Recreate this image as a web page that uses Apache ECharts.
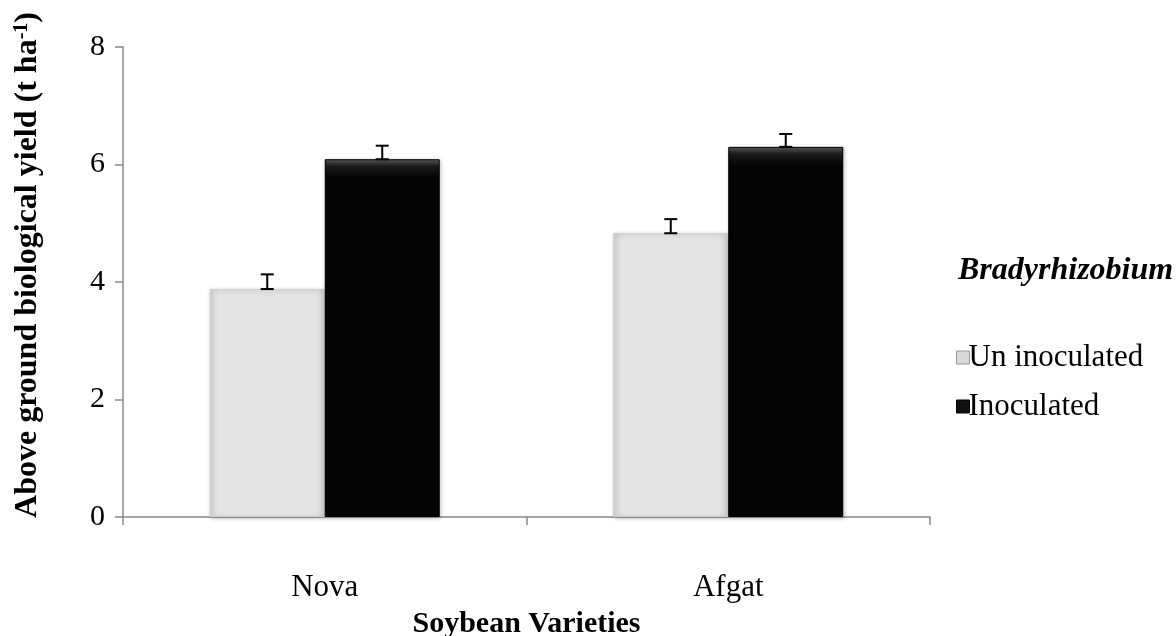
<!DOCTYPE html>
<html>
<head>
<meta charset="utf-8">
<script src="https://cdn.jsdelivr.net/npm/echarts@6/dist/echarts.min.js"></script>
<style>html,body{margin:0;padding:0;background:#fff}#c{width:1176px;height:636px}</style>
</head>
<body>
<div id="c"></div>
<script>
var categories = ['Nova', 'Afgat'];
var seriesNames = ['Un inoculated', 'Inoculated'];
var uninoculated = [3.88, 4.83];
var inoculated = [6.09, 6.30];
var errUninoculated = [0.25, 0.24];
var errInoculated = [0.23, 0.22];
var yTicks = [0, 2, 4, 6, 8];

var FONT = '"Liberation Serif", "Times New Roman", serif';
var chart = echarts.init(document.getElementById('c'));

function errSeries(values, errs, idx) {
  var data = values.map(function (v, i) { return [i, v, v + errs[i]]; });
  return {
    type: 'custom',
    silent: true,
    z: 10,
    renderItem: function (params, api) {
      var x = api.value(0);
      var lo = api.coord([x, api.value(1)]);
      var hi = api.coord([x, api.value(2)]);
      var bw = api.size([1, 0])[0];
      var barW = bw * 0.57 / 2;
      var cx = lo[0] + (idx === 0 ? -barW / 2 : barW / 2);
      var cap = 6.5;
      var st = { stroke: '#000', lineWidth: 2 };
      return {
        type: 'group',
        children: [
          { type: 'line', shape: { x1: cx, y1: lo[1], x2: cx, y2: hi[1] }, style: st },
          { type: 'line', shape: { x1: cx - cap, y1: hi[1], x2: cx + cap, y2: hi[1] }, style: st },
          { type: 'line', shape: { x1: cx - cap, y1: lo[1], x2: cx + cap, y2: lo[1] }, style: st }
        ]
      };
    },
    data: data
  };
}

chart.setOption({
  animation: false,
  textStyle: { fontFamily: FONT },
  grid: { left: 123, right: 246, top: 47, bottom: 119, containLabel: false, outerBoundsMode: 'none' },
  xAxis: {
    type: 'category',
    data: categories,
    axisLine: { lineStyle: { color: '#888', width: 1.5 } },
    axisTick: { show: true, length: 8, alignWithLabel: false, lineStyle: { color: '#888', width: 1.5 } },
    axisLabel: { color: '#000', fontSize: 31, fontFamily: FONT, margin: 55 },
    name: 'Soybean Varieties',
    nameLocation: 'middle',
    nameGap: 92,
    nameTextStyle: { color: '#000', fontSize: 30, fontWeight: 'bold', fontFamily: FONT }
  },
  yAxis: {
    type: 'value',
    min: 0, max: 8, interval: 2,
    axisLine: { show: true, lineStyle: { color: '#888', width: 1.5 } },
    axisTick: { show: true, length: 8, lineStyle: { color: '#888', width: 1.5 } },
    splitLine: { show: false },
    axisLabel: {
      color: '#000', fontSize: 30, fontFamily: FONT, margin: 18,
      formatter: function (v) { return yTicks.indexOf(v) >= 0 ? String(v) : ''; }
    }
  },
  legend: {
    orient: 'vertical',
    left: 951,
    top: 337,
    itemWidth: 13,
    itemHeight: 13,
    itemGap: 18,
    icon: 'rect',
    textStyle: { fontSize: 31, fontFamily: FONT, color: '#000', padding: [0, 0, 0, -6] },
    data: [
      { name: seriesNames[0], itemStyle: { color: '#d9d9d9', borderColor: '#999', borderWidth: 1 } },
      { name: seriesNames[1], itemStyle: { color: '#111', borderColor: '#000', borderWidth: 1 } }
    ]
  },
  graphic: [
    {
      type: 'text', left: 958, top: 255,
      style: { text: 'Bradyrhizobium', font: 'italic bold 32px ' + FONT, fill: '#000' }
    },
    {
      type: 'text', x: 28, y: 265, rotation: Math.PI / 2,
      style: {
        text: '{a|Above ground biological yield (t ha}{s|-1}{a|)}',
        align: 'center', verticalAlign: 'middle',
        rich: {
          a: { fontSize: 32, fontWeight: 'bold', fontFamily: FONT, fill: '#000' },
          s: { fontSize: 20, fontWeight: 'bold', fontFamily: FONT, fill: '#000', verticalAlign: 'top', padding: [0, 0, 12, 0] }
        }
      }
    }
  ],
  series: [
    {
      name: seriesNames[0], type: 'bar', data: uninoculated,
      barGap: '0%', barCategoryGap: '43%',
      itemStyle: {
        color: new echarts.graphic.LinearGradient(0, 0, 1, 0, [
          { offset: 0, color: '#d6d6d6' }, { offset: 0.08, color: '#e4e4e4' },
          { offset: 0.92, color: '#e4e4e4' }, { offset: 1, color: '#d0d0d0' }
        ]),
        borderColor: '#cfcfcf', borderWidth: 1,
        shadowColor: 'rgba(0,0,0,0.25)', shadowBlur: 4, shadowOffsetX: 1, shadowOffsetY: 1
      }
    },
    {
      name: seriesNames[1], type: 'bar', data: inoculated,
      itemStyle: {
        color: new echarts.graphic.LinearGradient(0, 0, 0, 1, [
          { offset: 0, color: '#5a5a5a' }, { offset: 0.02, color: '#1a1a1a' },
          { offset: 0.05, color: '#050505' }, { offset: 1, color: '#050505' }
        ]),
        borderColor: '#000', borderWidth: 1,
        shadowColor: 'rgba(0,0,0,0.25)', shadowBlur: 4, shadowOffsetX: 1, shadowOffsetY: 1
      }
    },
    errSeries(uninoculated, errUninoculated, 0),
    errSeries(inoculated, errInoculated, 1)
  ]
});
</script>
</body>
</html>
